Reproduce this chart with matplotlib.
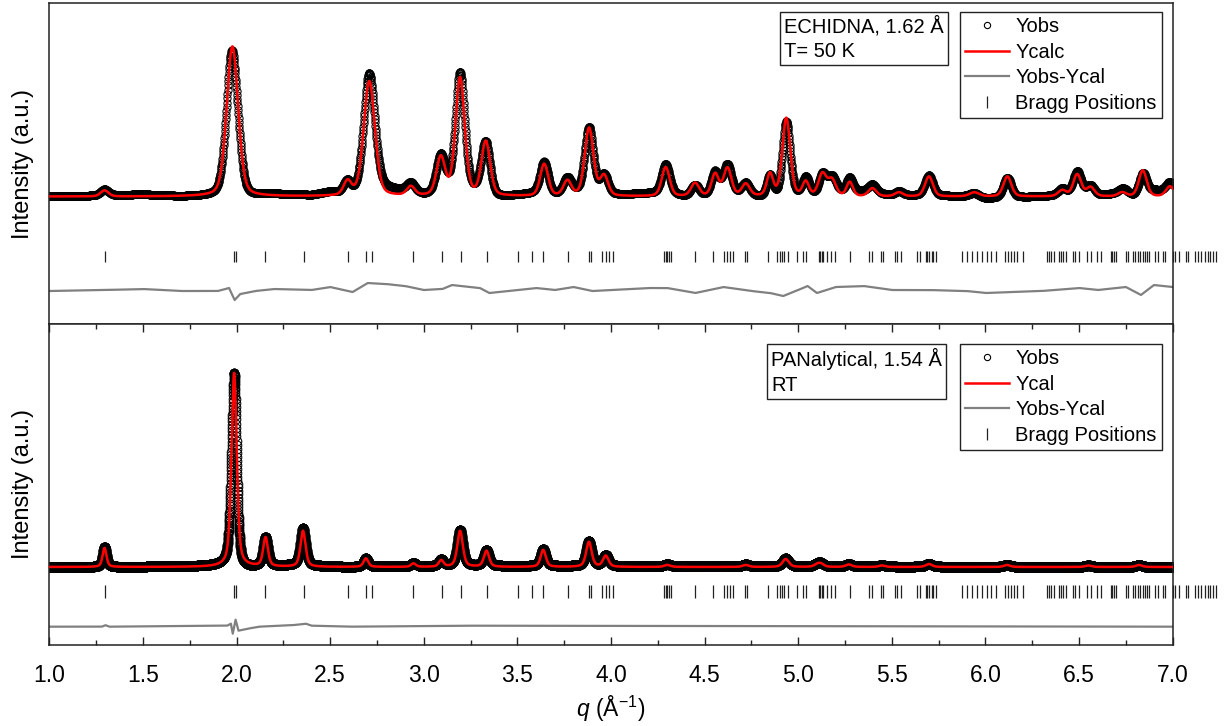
import numpy as np
import matplotlib
matplotlib.use("Agg")
import matplotlib.pyplot as plt
from matplotlib.lines import Line2D
from matplotlib.ticker import MultipleLocator

plt.rcParams['font.family'] = ['Liberation Sans', 'DejaVu Sans']
plt.rcParams['mathtext.fontset'] = 'custom'
plt.rcParams['mathtext.rm'] = 'Liberation Sans'
plt.rcParams['mathtext.it'] = 'Liberation Sans:italic'

# ---------------- data ----------------
# ECHIDNA neutron pattern (top): peak position q, height (a.u.), FWHM
top_peak_q = [1.295, 1.978, 2.593, 2.709, 2.931, 3.091, 3.194, 3.331, 3.643, 3.767,
              3.883, 3.963, 4.292, 4.449, 4.556, 4.622, 4.720, 4.849, 4.936, 5.040,
              5.129, 5.180, 5.275, 5.396, 5.538, 5.698, 5.940, 6.117, 6.410, 6.490,
              6.561, 6.730, 6.840, 6.985]
top_peak_h = [6, 150, 14, 115, 9, 38, 118, 54, 32, 15,
              68, 20, 29, 13, 22, 28, 12, 22, 78, 14,
              22, 16, 14, 8, 4, 20, 4, 20, 6, 22,
              9, 4, 26, 10]
top_peak_w = [0.05, 0.072, 0.05, 0.070, 0.05, 0.055, 0.058, 0.055, 0.05, 0.05,
              0.055, 0.05, 0.05, 0.05, 0.045, 0.05, 0.05, 0.04, 0.05, 0.04,
              0.05, 0.05, 0.04, 0.05, 0.05, 0.05, 0.06, 0.05, 0.05, 0.05,
              0.05, 0.05, 0.05, 0.05]
top_background = 127.5
# observed - calculated (top), read at knots
top_diff_q = [1.00, 1.30, 1.50, 1.70, 1.90, 1.96, 1.99, 2.02, 2.10, 2.20, 2.40, 2.50,
              2.62, 2.70, 2.80, 2.90, 3.00, 3.10, 3.15, 3.20, 3.30, 3.35, 3.45, 3.60,
              3.70, 3.80, 3.90, 4.00, 4.20, 4.30, 4.45, 4.60, 4.75, 4.85, 4.92, 5.00,
              5.05, 5.10, 5.20, 5.35, 5.50, 5.70, 5.90, 6.00, 6.30, 6.50, 6.60, 6.75,
              6.83, 6.90, 7.00]
top_diff_v = [0, 1, 2, 0, 0, 3, -9, -3, 0, 2, 1, 4,
              -1, 8, 7, 5, 1, 2, 6, 5, 3, -2, 0, 3,
              1, 4, 0, 1, 3, 3, -2, 4, 0, -2, -5, 1,
              5, -2, 4, 5, 1, 1, 0, -2, 0, 3, 1, 4,
              -4, 6, 4]

# PANalytical X-ray pattern (bottom)
bot_peak_q = [1.295, 1.987, 2.155, 2.355, 2.691, 2.945, 3.093, 3.194, 3.335, 3.638,
              3.882, 3.972, 4.301, 4.720, 4.933, 5.100, 5.120, 5.270, 5.447, 5.698,
              6.115, 6.550, 6.820]
bot_peak_h = [19, 194, 29, 36, 8.5, 3.5, 6.5, 36, 16, 17,
              25, 11, 2, 2, 8, 2, 3, 2.5, 1.5, 3,
              2, 1.5, 2]
bot_peak_w = [0.025, 0.033, 0.030, 0.032, 0.030, 0.030, 0.030, 0.035, 0.033, 0.033,
              0.035, 0.035, 0.040, 0.040, 0.040, 0.040, 0.040, 0.040, 0.040, 0.040,
              0.040, 0.040, 0.040]
bot_background = 78.0
bot_diff_q = [1.00, 1.28, 1.30, 1.32, 1.95, 1.97, 1.98, 1.995, 2.01, 2.06, 2.12,
              2.30, 2.37, 2.40, 2.60, 3.20, 7.00]
bot_diff_v = [0, 0, 1.5, 0, 1, 3, -7, 7, -4, -2, 0,
              1.5, 3, 1, 0, 1, 0]

# Bragg reflection positions (q, 1/Angstrom)
bragg_q = [1.295, 1.984, 1.998, 2.153, 2.358, 2.595, 2.690, 2.726, 2.943, 3.095,
           3.198, 3.337, 3.504, 3.579, 3.639, 3.773, 3.883, 3.892, 3.951, 3.972,
           3.990, 4.010, 4.285, 4.293, 4.300, 4.310, 4.318, 4.447, 4.547, 4.604,
           4.620, 4.637, 4.654, 4.714, 4.725, 4.839, 4.889, 4.900, 4.912, 4.925,
           4.946, 4.992, 5.027, 5.043, 5.111, 5.118, 5.126, 5.133, 5.155, 5.177,
           5.195, 5.277, 5.378, 5.392, 5.444, 5.454, 5.515, 5.529, 5.547, 5.636,
           5.650, 5.680, 5.690, 5.700, 5.712, 5.722, 5.734, 5.876, 5.903, 5.930,
           5.956, 5.983, 6.010, 6.027, 6.054, 6.104, 6.118, 6.135, 6.150, 6.170,
           6.200, 6.329, 6.340, 6.352, 6.365, 6.395, 6.405, 6.415, 6.428, 6.465,
           6.478, 6.500, 6.543, 6.565, 6.595, 6.615, 6.668, 6.675, 6.685, 6.695,
           6.748, 6.760, 6.790, 6.800, 6.812, 6.825, 6.840, 6.850, 6.862, 6.875,
           6.905, 6.920, 6.950, 6.960, 7.000, 7.012, 7.035, 7.069, 7.080, 7.120,
           7.135, 7.150, 7.170, 7.190, 7.200, 7.215, 7.229]

x_ticks = [1.0, 1.5, 2.0, 2.5, 3.0, 3.5, 4.0, 4.5, 5.0, 5.5, 6.0, 6.5, 7.0]


# ---------------- profile construction ----------------
def profile(q, pos, h, w, eta):
    y = np.zeros_like(q)
    for p0, hh, ww in zip(pos, h, w):
        z = (q - p0) / ww
        y += hh * (eta / (1 + 4 * z ** 2) + (1 - eta) * np.exp(-4 * np.log(2) * z ** 2))
    return y


q_top = np.arange(1.0, 7.0 + 1e-9, 0.0015)
calc_top = top_background + profile(q_top, top_peak_q, top_peak_h, top_peak_w, 0.3)
diff_top = np.interp(q_top, top_diff_q, top_diff_v)
obs_top = calc_top + diff_top

q_bot = np.arange(1.0, 7.0 + 1e-9, 0.0005)
calc_bot = bot_background + profile(q_bot, bot_peak_q, bot_peak_h, bot_peak_w, 0.5)
diff_bot = np.interp(q_bot, bot_diff_q, bot_diff_v)
obs_bot = calc_bot + diff_bot

# ---------------- figure ----------------
fig = plt.figure(figsize=(12.29, 7.26), dpi=100)
L, W = 0.0401, 0.9141
ax1 = fig.add_axes([L, 0.5537, W, 0.4417])
ax2 = fig.add_axes([L, 0.1116, W, 0.4421], sharex=ax1)

red = '#ff0000'
gray = '#808080'


def draw(ax, q, obs, calc, diff, diff_off, tick_lo, tick_hi, ms):
    ax.plot(q, obs, 'o', mfc='none', mec='black', ms=ms, mew=0.75, zorder=2)
    ax.plot(q, calc, '-', color=red, lw=1.8, zorder=3)
    ax.plot(q, diff + diff_off, '-', color=gray, lw=1.6, zorder=2)
    vl = ax.vlines(bragg_q, tick_lo, tick_hi, colors='#222222', lw=0.9, zorder=2)
    vl.set_clip_on(False)


draw(ax1, q_top, obs_top, calc_top, diff_top, 33, 62, 73, 5.2)
draw(ax2, q_bot, obs_bot, calc_bot, diff_bot, 18.3, 47, 60, 6.2)

ax1.set_ylim(0, 320.7)
ax2.set_ylim(0, 321)
ax1.set_xlim(1.0, 7.0)

for ax in (ax1, ax2):
    for s in ax.spines.values():
        s.set_linewidth(1.1)
        s.set_color('#222222')
    ax.set_yticks([])
    ax.set_ylabel('Intensity (a.u.)', fontsize=17)
    ax.yaxis.set_label_coords(-0.014, 0.5)

ax1.tick_params(axis='x', which='both', bottom=False, top=False, labelbottom=False)
ax2.set_xticks(x_ticks)
ax2.xaxis.set_minor_locator(MultipleLocator(0.25))
ax2.tick_params(axis='x', which='both', direction='in', top=True, bottom=True,
                labelsize=16.5, pad=13.5, width=1.0, color='#222222')
ax2.tick_params(axis='x', which='major', length=6)
ax2.tick_params(axis='x', which='minor', length=3.8)
ax2.set_xlabel(r'$\it{q}$ (Å$^{-1}$)', fontsize=16.5, labelpad=5)


def legend(ax, ytop, calc_label):
    handles = [
        Line2D([], [], ls='none', marker='o', mfc='none', mec='black', ms=4.5, mew=0.8),
        Line2D([], [], color=red, lw=1.8),
        Line2D([], [], color=gray, lw=1.6),
        Line2D([], [], ls='none', marker='|', color='#222222', ms=9, mew=0.9),
    ]
    labels = ['Yobs', calc_label, 'Yobs-Ycal', 'Bragg Positions']
    leg = ax.legend(handles, labels, loc='upper left',
                    bbox_to_anchor=(960 / 1229, 1 - ytop / 726),
                    bbox_transform=fig.transFigure, borderaxespad=0,
                    fontsize=14.5, frameon=True, fancybox=False, framealpha=1,
                    edgecolor='#222222', handlelength=2.2, handletextpad=0.3,
                    labelspacing=0.33, borderpad=0.25)
    leg.get_frame().set_linewidth(1.0)


legend(ax1, 12, 'Ycalc')
legend(ax2, 344, 'Ycal')

box = dict(boxstyle='square,pad=0.2', fc='white', ec='#222222', lw=1.0)
fig.text(784 / 1229, 1 - 16 / 726, 'ECHIDNA, 1.62 Å\nT= 50 K', fontsize=14.5,
         ha='left', va='top', bbox=box, linespacing=1.38)
fig.text(771 / 1229, 1 - 348 / 726, 'PANalytical, 1.54 Å\nRT', fontsize=14.5,
         ha='left', va='top', bbox=box, linespacing=1.38)

fig.savefig('out.png', dpi=100)
